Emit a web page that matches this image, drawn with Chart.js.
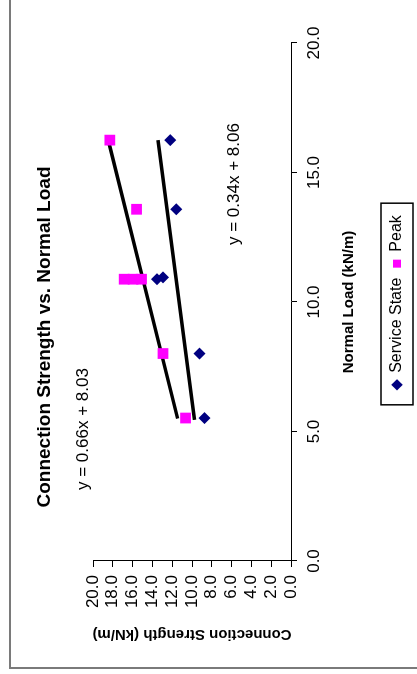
<!DOCTYPE html>
<html><head><meta charset="utf-8">
<script src="https://cdn.jsdelivr.net/npm/chart.js@4.4.1/dist/chart.umd.min.js"></script>
<style>
html,body{margin:0;padding:0;background:#fff;overflow:hidden;width:417px;height:674px}
#wrap{position:absolute;left:0;top:0;width:674px;height:417px;transform-origin:0 0;transform:translate(0px,674px) rotate(-90deg);}
#frame{position:absolute;left:5px;top:9px;width:720px;height:460px;border-left:2px solid #7a7a7a;border-top:2px solid #7a7a7a;}
canvas{position:absolute;left:0;top:0}
</style></head><body>
<div id="wrap"><div id="frame"></div><canvas id="c" width="674" height="417"></canvas></div>
<script>
const chartTitle = 'Connection Strength vs. Normal Load';
const xTitle = 'Normal Load (kN/m)';
const yTitle = 'Connection Strength (kN/m)';
const seriesNames = ['Service State', 'Peak'];
const loadService = [16.25, 13.58, 10.88, 10.95, 8.01, 5.52];
const strengthService = [12.19, 11.59, 13.54, 12.93, 9.25, 8.74];
const loadPeak = [16.25, 13.58, 10.88, 10.88, 10.88, 8.01, 5.52];
const strengthPeak = [18.3, 15.6, 16.85, 15.95, 15.1, 12.93, 10.65];
const trendServiceX = [5.45, 16.25];
const trendServiceY = [9.75, 13.44];
const trendPeakX = [5.5, 16.25];
const trendPeakY = [11.45, 18.46];
const eqTexts = ['y = 0.66x + 8.03', 'y = 0.34x + 8.06'];
const eqX = [2.74, 12.2];
const eqY = [21.0, 5.73];

const FONT = '"Liberation Sans", Arial, sans-serif';
const pts = (xs, ys) => xs.map((v, i) => ({x: v, y: ys[i]}));

const annot = {
  id: 'annot',
  afterDraw(chart) {
    const {ctx, scales: {x, y}} = chart;
    ctx.save();
    ctx.font = '17px ' + FONT;
    ctx.fillStyle = '#000';
    ctx.textBaseline = 'middle';
    ctx.textAlign = 'left';
    eqTexts.forEach((t, i) => ctx.fillText(t, x.getPixelForValue(eqX[i]), y.getPixelForValue(eqY[i])));
    const lg = chart.legend;
    const hb = lg.legendHitBoxes;
    if (hb && hb.length) {
      const first = hb[0], last = hb[hb.length - 1];
      const cy = first.top + first.height / 2;
      const l = first.left - 16, r = last.left + last.width + 12;
      ctx.strokeStyle = '#000';
      ctx.lineWidth = 1.5;
      ctx.strokeRect(l, cy - 16, r - l, 32);
    }
    ctx.restore();
  }
};

new Chart(document.getElementById('c'), {
  type: 'scatter',
  data: {
    datasets: [
      {label: seriesNames[0], data: pts(loadService, strengthService), pointStyle: 'rectRot', pointRadius: 6, backgroundColor: '#000080', borderColor: '#000080', borderWidth: 0},
      {label: seriesNames[1], data: pts(loadPeak, strengthPeak), pointStyle: 'rect', pointRadius: 7.6, backgroundColor: '#FF00FF', borderColor: '#FF00FF', borderWidth: 0},
      {label: 'trendPeak', data: pts(trendPeakX, trendPeakY), showLine: true, pointRadius: 0, borderColor: '#000', borderWidth: 3.5},
      {label: 'trendService', data: pts(trendServiceX, trendServiceY), showLine: true, pointRadius: 0, borderColor: '#000', borderWidth: 3.5}
    ]
  },
  options: {
    responsive: false,
    animation: false,
    devicePixelRatio: 1,
    layout: {padding: {left: 0, right: 0, top: 0, bottom: 2}},
    plugins: {
      title: {display: true, text: chartTitle, color: '#000', font: {family: FONT, size: 19, weight: 'bold'}, padding: {top: 33.6, bottom: 36.6}},
      legend: {
        position: 'bottom', fullSize: false,
        labels: {
          usePointStyle: true, boxWidth: 8, boxHeight: 8, padding: 10, color: '#000',
          font: {family: FONT, size: 16},
          filter: (item) => item.datasetIndex < 2
        }
      },
      tooltip: {enabled: false}
    },
    scales: {
      x: {
        type: 'linear', position: 'bottom', min: 0, max: 20,
        ticks: {stepSize: 5, autoSkip: false, maxRotation: 0, color: '#000', padding: 7, font: {family: FONT, size: 17}, callback: v => Number(v).toFixed(1)},
        grid: {drawOnChartArea: false, drawTicks: true, tickLength: 6, color: '#000'},
        border: {color: '#000', width: 1},
        title: {display: true, text: xTitle, color: '#000', font: {family: FONT, size: 15, weight: 'bold'}, padding: {top: 0, bottom: 21}},
        afterFit(s) { s.height = 88; }
      },
      y: {
        type: 'linear', position: 'left', min: 0, max: 20,
        ticks: {stepSize: 2, autoSkip: false, color: '#000', padding: 8, font: {family: FONT, size: 17}, callback: v => Number(v).toFixed(1)},
        grid: {drawOnChartArea: false, drawTicks: true, tickLength: 6, color: '#000'},
        border: {color: '#000', width: 1},
        title: {display: true, text: yTitle, color: '#000', font: {family: FONT, size: 15, weight: 'bold'}, padding: {top: 31, bottom: 0}},
        afterFit(s) { s.width = 113; }
      },
      y2: {
        position: 'right', display: true,
        ticks: {display: false}, grid: {display: false, drawTicks: false}, border: {display: false},
        afterFit(s) { s.width = 43; }
      }
    }
  },
  plugins: [annot]
});
</script>
</body></html>
